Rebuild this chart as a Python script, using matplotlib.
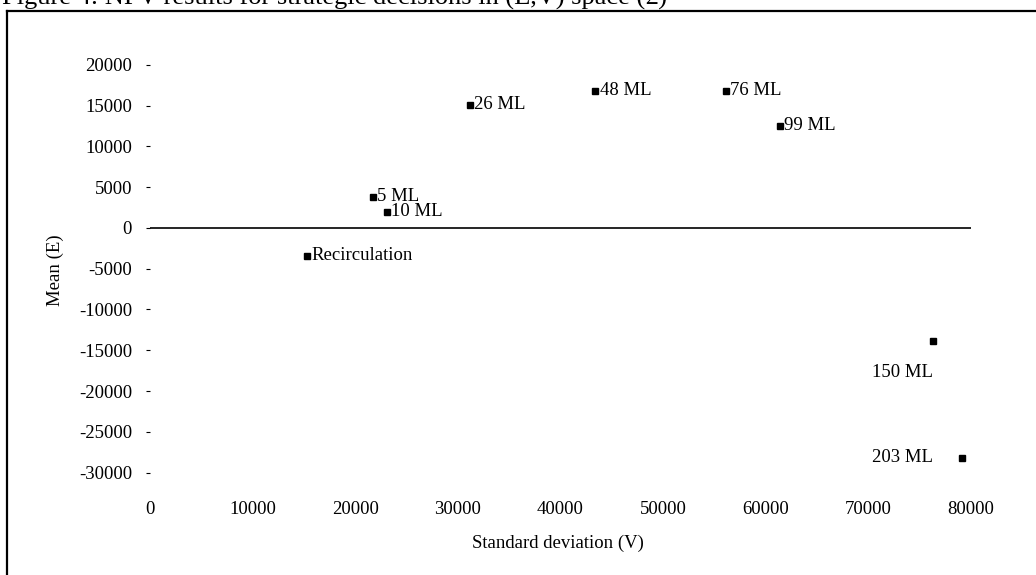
import matplotlib
matplotlib.use("Agg")
import matplotlib.pyplot as plt
from matplotlib.lines import Line2D

plt.rcParams["font.family"] = ["Liberation Serif", "DejaVu Serif"]
plt.rcParams["axes.unicode_minus"] = False

# strategic decisions in (E,V) space
labels = ["5 ML", "10 ML", "Recirculation", "26 ML", "48 ML",
          "76 ML", "99 ML", "150 ML", "203 ML"]
std_dev = [21700, 23100, 15300, 31200, 43400, 56100, 61400, 76300, 79100]
mean = [3800, 1960, -3430, 15070, 16800, 16800, 12500, -13850, -28200]

x_ticks = [0, 10000, 20000, 30000, 40000, 50000, 60000, 70000, 80000]
y_ticks = [20000, 15000, 10000, 5000, 0, -5000, -10000, -15000,
           -20000, -25000, -30000]

# label offsets in points (most sit just to the right of their marker)
label_offsets = {"150 ML": (-22, -23, "center"), "203 ML": (-43, 0, "center")}

W, H = 1036, 575
fig = plt.figure(figsize=(W / 100, H / 100), dpi=100)
ax = fig.add_axes([150 / W, (H - 489) / H, 821 / W, 440.6 / H])

ax.plot(std_dev, mean, "s", color="black", markersize=4)
ax.axhline(0, color="black", linewidth=1.2)

for name, sx, my in zip(labels, std_dev, mean):
    dx, dy, ha = label_offsets.get(name, (3, 0, "left"))
    ax.annotate(name, (sx, my), xytext=(dx, dy), textcoords="offset points",
                ha=ha, va="center", fontsize=13.5)

ax.set_xlim(0, 80000)
ax.set_ylim(-32000, 22000)
ax.set_xticks(x_ticks)
ax.set_xticklabels([str(v) for v in x_ticks])
ax.set_yticks(y_ticks)
ax.set_yticklabels([str(v) for v in y_ticks])
ax.tick_params(axis="x", length=0, pad=9, labelsize=13.5)
ax.tick_params(axis="y", length=3, direction="out", pad=10, labelsize=13.5)
for side in ["top", "right", "bottom", "left"]:
    ax.spines[side].set_visible(False)

fig.text(558 / W, 1 - 543 / H, "Standard deviation (V)", ha="center",
         va="center", fontsize=13.5)
fig.text(55 / W, 1 - 270 / H, "Mean (E)", ha="center", va="center",
         rotation=90, fontsize=13.5)

# figure caption, cropped at the top edge, and the surrounding frame
fig.text(2 / W, 1 - 5 / H,
         "Figure 4: NPV results for strategic decisions in (E,V) space (£)",
         ha="left", va="baseline", fontsize=19)
fig.add_artist(Line2D([7 / W, 1.0], [1 - 11 / H, 1 - 11 / H],
                      color="black", linewidth=1.6))
fig.add_artist(Line2D([7 / W, 7 / W], [0.0, 1 - 11 / H],
                      color="black", linewidth=1.6))

fig.savefig("out.png", dpi=100, facecolor="white")
